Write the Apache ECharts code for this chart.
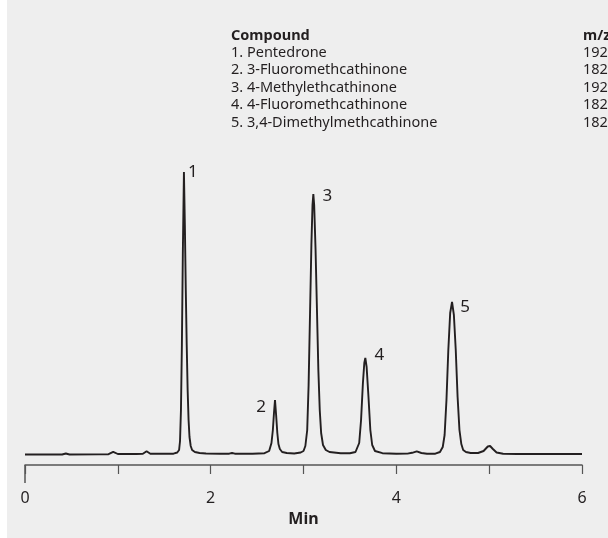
<!DOCTYPE html>
<html>
<head>
<meta charset="utf-8">
<script src="https://cdn.jsdelivr.net/npm/echarts@6/dist/echarts.min.js"></script>
<style>
  html, body { margin: 0; padding: 0; background: #ffffff; }
  #chart { position: absolute; left: 7px; top: 0; width: 601px; height: 538px; }
</style>
</head>
<body>
<div id="chart"></div>
<script>
// Detector trace: [retention time (min), signal]
const trace = [
  [0.00, 0.5], [0.20, 0.5], [0.40, 0.5], [0.44, 1.5], [0.48, 0.5], [0.80, 0.6], [0.90, 0.8],
  [0.95, 3.2], [1.00, 1.0], [1.20, 1.0], [1.27, 1.3], [1.31, 3.8], [1.35, 1.3], [1.50, 1.2],
  [1.60, 1.3], [1.64, 2.5], [1.66, 5], [1.67, 14], [1.68, 45], [1.69, 110], [1.70, 200],
  [1.712, 283], [1.722, 230], [1.732, 165], [1.742, 110], [1.752, 65], [1.762, 35], [1.772, 18],
  [1.785, 9], [1.80, 5], [1.83, 3], [1.88, 2], [1.95, 1.5], [2.10, 1.3], [2.20, 1.3],
  [2.23, 2.0], [2.26, 1.3], [2.45, 1.3], [2.58, 1.8], [2.60, 2], [2.63, 4], [2.655, 12],
  [2.67, 25], [2.682, 42], [2.693, 55], [2.705, 40], [2.718, 22], [2.73, 11], [2.745, 6],
  [2.77, 3], [2.82, 2], [2.90, 1.5], [2.97, 2.5], [3.00, 4], [3.02, 9], [3.04, 25], [3.055, 70],
  [3.07, 140], [3.085, 210], [3.097, 250], [3.106, 261], [3.115, 250], [3.13, 205], [3.145, 145],
  [3.16, 85], [3.175, 45], [3.19, 22], [3.21, 10], [3.24, 5], [3.28, 3], [3.40, 1.8],
  [3.50, 1.8], [3.56, 3], [3.58, 5], [3.60, 12], [3.62, 35], [3.64, 72], [3.655, 92],
  [3.666, 97], [3.68, 88], [3.70, 58], [3.72, 25], [3.74, 10], [3.77, 4], [3.85, 1.8],
  [4.00, 1.3], [4.12, 1.4], [4.17, 2.2], [4.22, 3.6], [4.27, 2.0], [4.33, 1.2], [4.42, 1.3],
  [4.47, 3], [4.50, 8], [4.52, 20], [4.54, 55], [4.56, 105], [4.58, 142], [4.60, 153],
  [4.62, 140], [4.64, 105], [4.66, 58], [4.68, 25], [4.70, 11], [4.72, 5], [4.75, 3],
  [4.80, 2], [4.88, 2], [4.94, 4], [4.985, 8.5], [5.01, 9], [5.04, 6], [5.08, 2.5],
  [5.15, 1.2], [5.30, 1.0], [5.60, 1.0], [6.00, 1.0]
];

// Peak apexes and their numbers
const peakTimes = [1.712, 2.693, 3.106, 3.666, 4.60];
const peakHeights = [283, 55, 261, 97, 153];
const peakNames = ['1', '2', '3', '4', '5'];

// Compound table
const compoundNames = [
  '1. Pentedrone',
  '2. 3-Fluoromethcathinone',
  '3. 4-Methylethcathinone',
  '4. 4-Fluoromethcathinone',
  '5. 3,4-Dimethylmethcathinone'
];
const mzValues = ['192', '182', '192', '182', '182'];

const xTickValues = [0, 2, 4, 6];

const ink = '#231f20';
const axisInk = '#555555';
const font = 'Noto Sans';

const labelOffsets = [[9, 0], [-14, 7], [14, 2], [14, -3], [13, 5]];

const peakLabelData = peakTimes.map((t, i) => ({
  value: [t, peakHeights[i]],
  name: peakNames[i],
  label: { offset: labelOffsets[i] }
}));

const tableTexts = [];
const rowStart = 35.5, rowStep = 17.4, tableFont = 14.5;
function tableText(x, rowY, text, bold) {
  return {
    type: 'text', x: x, y: rowY,
    style: {
      text: text,
      font: (bold ? 'bold ' : '') + tableFont + 'px "' + font + '"',
      fill: ink, textVerticalAlign: 'middle'
    }
  };
}
tableTexts.push(tableText(224, rowStart, 'Compound', true));
tableTexts.push(tableText(576, rowStart, 'm/z', true));
compoundNames.forEach((name, i) => {
  const y = rowStart + (i + 1) * rowStep;
  tableTexts.push(tableText(224, y, name, false));
  tableTexts.push(tableText(576, y, mzValues[i], false));
});

const chart = echarts.init(document.getElementById('chart'), null, { renderer: 'canvas' });

const option = {
  backgroundColor: '#eeeeee',
  animation: false,
  grid: { left: 18, right: 26, top: 155, bottom: 73, containLabel: false },
  xAxis: {
    type: 'value',
    min: 0, max: 6, interval: 1,
    name: 'Min',
    nameLocation: 'middle',
    nameGap: 46,
    nameTextStyle: { fontFamily: font, fontWeight: 'bold', fontSize: 16, color: ink },
    axisLine: { show: true, onZero: false, lineStyle: { color: axisInk, width: 1.5 } },
    axisTick: { show: true, length: 9, lineStyle: { color: axisInk, width: 1.2 } },
    axisLabel: {
      margin: 25, fontFamily: font, fontSize: 16, color: ink,
      formatter: v => (xTickValues.indexOf(v) >= 0 ? String(v) : '')
    },
    splitLine: { show: false }
  },
  yAxis: {
    type: 'value', min: -10, max: 300, show: false,
    splitLine: { show: false }
  },
  series: [
    {
      type: 'line',
      data: trace,
      showSymbol: false,
      lineStyle: { color: ink, width: 1.9 },
      silent: true
    },
    {
      type: 'scatter',
      data: peakLabelData,
      symbolSize: 0,
      itemStyle: { opacity: 1 },
      label: {
        show: true,
        position: 'inside',
        formatter: p => p.name,
        fontFamily: font, fontSize: 17, color: ink, opacity: 1
      },
      silent: true
    }
  ],
  graphic: tableTexts
};

chart.setOption(option);

// Longer tick at the origin of the time axis
const origin = chart.convertToPixel({ xAxisIndex: 0, yAxisIndex: 0 }, [0, -10]);
chart.setOption({
  graphic: tableTexts.concat([{
    type: 'line',
    shape: { x1: origin[0], y1: origin[1], x2: origin[0], y2: origin[1] + 18 },
    style: { stroke: axisInk, lineWidth: 1.5 }
  }])
});
</script>
</body>
</html>
